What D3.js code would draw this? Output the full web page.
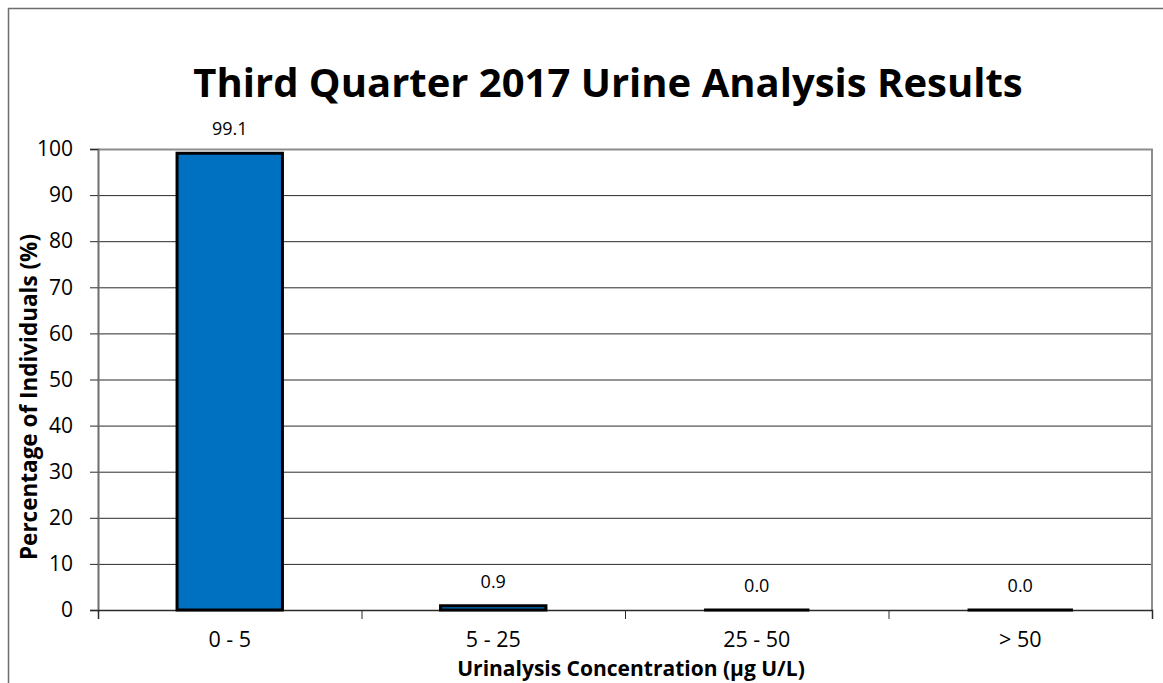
<!DOCTYPE html>
<html>
<head>
<meta charset="utf-8">
<script src="https://cdn.jsdelivr.net/npm/d3@7"></script>
<style>
  body { margin: 0; background: #fff; }
  svg { display: block; font-family: "Open Sans", Lato, sans-serif; }
</style>
</head>
<body>
<svg id="chart" width="1163" height="683"></svg>
<script>
// chart data
var categories = ['0 - 5', '5 - 25', '25 - 50', '> 50'];
var percentages = [99.1, 0.9, 0.0, 0.0];
var yTicks = [0, 10, 20, 30, 40, 50, 60, 70, 80, 90, 100];

var chartTitle = 'Third Quarter 2017 Urine Analysis Results';
var xTitle = 'Urinalysis Concentration (\u00b5g U/L)';
var yTitle = 'Percentage of Individuals (%)';

var svgWidth = 1163;
var svgHeight = 683;
var plot = { left: 98, right: 1152, top: 149, bottom: 610 };
var fontFamily = '"Open Sans", Lato, sans-serif';

var svg = d3.select('#chart');

// outer chart frame (runs off the picture on right and bottom)
svg.append('rect')
    .attr('x', 8.5).attr('y', 8.5)
    .attr('width', 1300).attr('height', 800)
    .attr('fill', '#fff')
    .attr('stroke', '#6e6e6e')
    .attr('stroke-width', 1.5);

var xScale = d3.scaleBand()
    .domain(categories)
    .range([plot.left, plot.right])
    .paddingInner(0.6)
    .paddingOuter(0.3);

// category boundaries for the tick marks
var xEdge = d3.scaleLinear()
    .domain([0, categories.length])
    .range([plot.left, plot.right]);

var yScale = d3.scaleLinear()
    .domain([0, 100])
    .range([plot.bottom, plot.top]);

// gridlines
svg.append('g')
    .selectAll('line')
    .data(yTicks.filter(function(d){ return d > 0 && d < 100; }))
    .enter()
    .append('line')
    .attr('x1', plot.left).attr('x2', plot.right)
    .attr('y1', function(d){ return yScale(d) + 0.5; })
    .attr('y2', function(d){ return yScale(d) + 0.5; })
    .attr('stroke', '#2b2b2b')
    .attr('stroke-width', 1);

// plot border top / right
svg.append('path')
    .attr('d', 'M' + plot.left + ',' + (plot.top + 0.5) + 'H' + plot.right + 'V' + plot.bottom)
    .attr('fill', 'none')
    .attr('stroke', '#8c8c8c')
    .attr('stroke-width', 2);

// y axis
var yAxis = d3.axisLeft(yScale)
    .tickValues(yTicks)
    .tickSize(8)
    .tickPadding(17)
    .tickFormat(d3.format('d'));

var gy = svg.append('g')
    .attr('transform', 'translate(' + plot.left + ',0)')
    .call(yAxis);
gy.select('.domain').attr('stroke', '#6e6e6e').attr('stroke-width', 2);
gy.selectAll('.tick line').attr('stroke', '#2b2b2b');
gy.selectAll('.tick text')
    .attr('font-family', fontFamily)
    .attr('font-size', 21)
    .attr('fill', '#000');

// x axis: boundary ticks
var xTickAxis = d3.axisBottom(xEdge)
    .tickValues(d3.range(categories.length + 1))
    .tickSize(9)
    .tickFormat('');
var gxt = svg.append('g')
    .attr('transform', 'translate(0,' + plot.bottom + ')')
    .call(xTickAxis);
gxt.select('.domain').attr('stroke', '#2b2b2b').attr('stroke-width', 1.5);
gxt.selectAll('.tick line').attr('stroke', '#2b2b2b');

// bars as paths, so a zero value still shows as a thick outline
svg.append('g')
    .selectAll('path')
    .data(percentages)
    .enter()
    .append('path')
    .attr('d', function(d, i){
        var x0 = xScale(categories[i]);
        var x1 = x0 + xScale.bandwidth();
        return 'M' + x0 + ',' + yScale(0) + 'V' + yScale(d) + 'H' + x1 + 'V' + yScale(0) + 'Z';
    })
    .attr('fill', '#0070c0')
    .attr('stroke', '#000')
    .attr('stroke-width', 3);

// x axis: category labels
var xAxis = d3.axisBottom(xScale).tickSize(0).tickPadding(22);
var gx = svg.append('g')
    .attr('transform', 'translate(0,' + plot.bottom + ')')
    .call(xAxis);
gx.select('.domain').remove();
gx.selectAll('.tick text')
    .attr('font-family', fontFamily)
    .attr('font-size', 21.5)
    .attr('fill', '#000');

// value labels
svg.append('g')
    .selectAll('text')
    .data(percentages)
    .enter()
    .append('text')
    .attr('x', function(d, i){ return xScale(categories[i]) + xScale.bandwidth() / 2; })
    .attr('y', function(d){ return yScale(d) - 18; })
    .attr('text-anchor', 'middle')
    .attr('font-size', 18)
    .attr('fill', '#000')
    .text(function(d){ return d.toFixed(1); });

// titles
svg.append('text')
    .attr('x', 608).attr('y', 97)
    .attr('text-anchor', 'middle')
    .attr('font-size', 40)
    .attr('font-weight', 'bold')
    .text(chartTitle);

svg.append('text')
    .attr('x', 631).attr('y', 676)
    .attr('text-anchor', 'middle')
    .attr('font-size', 21)
    .attr('font-weight', 'bold')
    .text(xTitle);

svg.append('text')
    .attr('transform', 'translate(37,397) rotate(-90)')
    .attr('text-anchor', 'middle')
    .attr('font-size', 22.5)
    .attr('font-weight', 'bold')
    .text(yTitle);
</script>
</body>
</html>
